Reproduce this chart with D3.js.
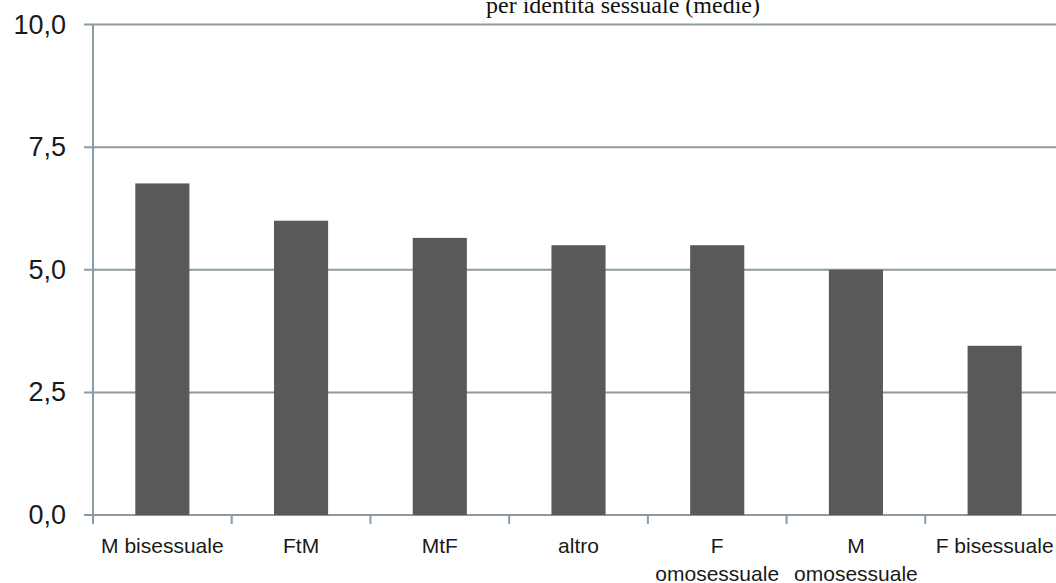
<!DOCTYPE html>
<html>
<head>
<meta charset="utf-8">
<script src="https://cdn.jsdelivr.net/npm/d3@7"></script>
<style>
    html, body { margin: 0; padding: 0; background: #fff; overflow: hidden; }
    svg { display: block; }
</style>
</head>
<body>
<div id="chart"></div>
<script>
// valori (medie per identità sessuale)
const categories = [
    ["M bisessuale"], ["FtM"], ["MtF"], ["altro"],
    ["F", "omosessuale"], ["M", "omosessuale"], ["F bisessuale"]
];
const values = [6.76, 6.0, 5.65, 5.5, 5.5, 5.0, 3.45];
const yTicks = [0, 2.5, 5, 7.5, 10];
const title = "per identità sessuale (medie)";

const width = 1056, height = 583;
const plotLeft = 93, plotRight = 1064, plotTop = 24.5, plotBottom = 515;

const svg = d3.select("#chart")
    .append("svg")
    .attr("width", width)
    .attr("height", height);

const x = d3.scaleBand()
    .domain(categories.map((c, i) => i))
    .range([plotLeft, plotRight])
    .paddingInner(0.61)
    .paddingOuter(0.305);

const y = d3.scaleLinear()
    .domain([0, 10])
    .range([plotBottom, plotTop]);

const fmt = v => d3.format(".1f")(v).replace(".", ",");

// griglia orizzontale
svg.append("g")
    .selectAll("line")
    .data(yTicks)
    .join("line")
    .attr("x1", plotLeft - 9)
    .attr("x2", plotRight)
    .attr("y1", d => y(d))
    .attr("y2", d => y(d))
    .attr("stroke", "#8c9aa3")
    .attr("stroke-width", 2);

// asse y
svg.append("line")
    .attr("x1", plotLeft).attr("x2", plotLeft)
    .attr("y1", plotTop).attr("y2", plotBottom + 1)
    .attr("stroke", "#8c9aa3")
    .attr("stroke-width", 2);

svg.append("g")
    .selectAll("text")
    .data(yTicks)
    .join("text")
    .attr("x", 66)
    .attr("y", d => y(d))
    .attr("text-anchor", "end")
    .attr("dominant-baseline", "central")
    .attr("font-family", "Liberation Sans, Arial, sans-serif")
    .attr("font-size", 27)
    .attr("fill", "#1a1a1a")
    .text(fmt);

// tacche asse x
const step = x.step();
svg.append("g")
    .selectAll("line")
    .data(d3.range(categories.length + 1))
    .join("line")
    .attr("x1", i => plotLeft + i * step)
    .attr("x2", i => plotLeft + i * step)
    .attr("y1", plotBottom)
    .attr("y2", plotBottom + 9)
    .attr("stroke", "#8c9aa3")
    .attr("stroke-width", 2);

// barre
svg.append("g")
    .selectAll("rect")
    .data(values)
    .join("rect")
    .attr("x", (d, i) => x(i))
    .attr("y", d => y(d))
    .attr("width", x.bandwidth())
    .attr("height", d => plotBottom - y(d))
    .attr("fill", "#595959");

// etichette categorie
const labels = svg.append("g")
    .selectAll("text")
    .data(categories)
    .join("text")
    .attr("x", (d, i) => x(i) + x.bandwidth() / 2)
    .attr("y", 553)
    .attr("text-anchor", "middle")
    .attr("font-family", "Liberation Sans, Arial, sans-serif")
    .attr("font-size", 21)
    .attr("fill", "#1a1a1a");

labels.selectAll("tspan")
    .data(d => d)
    .join("tspan")
    .attr("x", function () { return d3.select(this.parentNode).attr("x"); })
    .attr("dy", (d, j) => j === 0 ? 0 : 28)
    .text(d => d);

// titolo (tagliato in alto)
svg.append("text")
    .attr("x", 623)
    .attr("y", 13)
    .attr("text-anchor", "middle")
    .attr("font-family", "Liberation Serif, Times New Roman, serif")
    .attr("font-size", 24)
    .attr("fill", "#111")
    .text(title);
</script>
</body>
</html>
